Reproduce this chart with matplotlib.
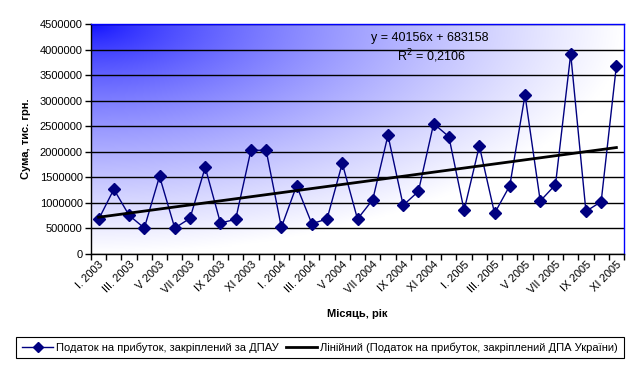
import numpy as np
import matplotlib
matplotlib.use('Agg')
import matplotlib.pyplot as plt

plt.rcParams['font.family'] = ['Liberation Sans', 'DejaVu Sans']

# monthly values, I.2003 .. XI.2005
values = [674000, 1262000, 752000, 503000, 1516000, 503000, 693000, 1693000, 601000, 674000,
          2026000, 2026000, 517000, 1333000, 588000, 680000, 1771000, 680000, 1058000, 2320000,
          948000, 1222000, 2548000, 2293000, 850000, 2110000, 791000, 1333000, 3109000, 1032000,
          1352000, 3913000, 830000, 1019000, 3684000]
tick_labels = ['I. 2003', 'III. 2003', 'V 2003', 'VII 2003', 'IX 2003', 'XI 2003',
               'I. 2004', 'III. 2004', 'V 2004', 'VII 2004', 'IX 2004', 'XI 2004',
               'I. 2005', 'III. 2005', 'V 2005', 'VII 2005', 'IX 2005', 'XI 2005']
series_name = 'Податок на прибуток, закріплений за ДПАУ'
trend_name = 'Лінійний (Податок на прибуток, закріплений ДПА України)'
eq_text = 'y = 40156x + 683158'
r2_text = 'R$^2$ = 0,2106'

x = np.arange(1, len(values) + 1)
y = np.array(values)
k, b = np.polyfit(x, y, 1)

fig = plt.figure(figsize=(6.4, 3.7), dpi=100)
ax = fig.add_axes([0.1422, 0.3143, 0.8328, 0.6208])

# corner gradient background
u, v = np.meshgrid(np.linspace(0, 1, 300), np.linspace(0, 1, 200))
t = np.clip(np.sqrt(u ** 2 + v ** 2), 0, 1) ** 0.7
blue = np.array([0.05, 0.05, 1.0])
white = np.array([1.0, 1.0, 1.0])
img = blue[None, None, :] * (1 - t[..., None]) + white[None, None, :] * t[..., None]
ax.imshow(img, extent=[0, 1, 0, 1], transform=ax.transAxes, aspect='auto', zorder=0)

ax.set_xlim(0.5, len(values) + 0.5)
ax.set_ylim(0, 4500000)
ax.set_yticks(np.arange(0, 4500001, 500000))
ax.yaxis.grid(True, color='black', linewidth=1.0, zorder=1)
ax.set_axisbelow(True)

ax.plot(x, y, color='#000080', linewidth=1.0, marker='D', markersize=6.5,
        markerfacecolor='#000080', markeredgecolor='#000080', zorder=3, label=series_name)
ax.plot([x[0], x[-1]], [k * x[0] + b, k * x[-1] + b], color='black', linewidth=2.0,
        zorder=4, label=trend_name)

ax.set_xticks(np.arange(0.5, len(values) + 1, 1), minor=False)
ax.set_xticklabels([])
ax.set_xticks(x[::2], minor=True)
ax.set_xticklabels(tick_labels, minor=True, rotation=45, ha='right', va='top',
                   rotation_mode='anchor', fontsize=8)
ax.tick_params(axis='x', which='minor', length=0, pad=4)
ax.tick_params(axis='x', which='major', length=4, direction='out', width=1)
ax.tick_params(axis='y', length=4, direction='out', width=1, labelsize=8, pad=2)
ax.yaxis.set_major_formatter(matplotlib.ticker.FuncFormatter(lambda val, p: '%d' % val))

for s in ['left', 'bottom']:
    ax.spines[s].set_color('black')
    ax.spines[s].set_linewidth(1.0)
for s in ['top', 'right']:
    ax.spines[s].set_color('#0000ff')
    ax.spines[s].set_linewidth(1.0)

ax.set_ylabel('Сума, тис. грн.', fontsize=8, fontweight='bold', labelpad=6)
ax.set_xlabel('Місяць, рік', fontsize=8, fontweight='bold', labelpad=10)

ax.text(0.635, 0.94, eq_text, transform=ax.transAxes, fontsize=9, ha='center', va='center', zorder=5)
ax.text(0.638, 0.858, r2_text, transform=ax.transAxes, fontsize=9, ha='center', va='center', zorder=5)

leg = fig.legend(loc='center', bbox_to_anchor=(0.5, 0.0605), ncol=2, fontsize=8,
                 fancybox=False, edgecolor='black', framealpha=1, handlelength=2.8,
                 columnspacing=0.6, handletextpad=0.3, borderpad=0.5, numpoints=1,
                 markerscale=0.8)
leg.get_frame().set_linewidth(0.8)

fig.savefig('out.png', dpi=100)
